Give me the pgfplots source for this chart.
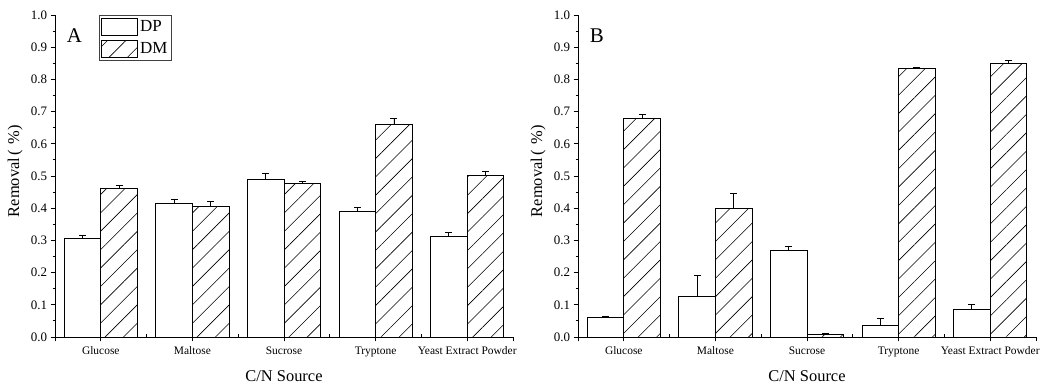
\documentclass[border=0pt]{standalone}
\usepackage{pgfplots}
\pgfplotsset{compat=1.18}
\usepackage{pgfplotstable}
\usepackage{fontspec}
\setmainfont{Liberation Serif}
\usetikzlibrary{patterns.meta}

% removal by carbon/nitrogen source: mean and standard error
% panel A
\pgfplotstableread{
x   dp     dpe    dm     dme
0   0.307  0.008  0.460  0.011
1   0.415  0.013  0.406  0.014
2   0.489  0.020  0.478  0.005
3   0.389  0.014  0.661  0.018
4   0.313  0.011  0.501  0.014
}\tabA
% panel B
\pgfplotstableread{
x   dp     dpe    dm     dme
0   0.060  0.005  0.678  0.012
1   0.127  0.065  0.400  0.046
2   0.270  0.012  0.007  0.004
3   0.035  0.023  0.834  0.004
4   0.086  0.014  0.850  0.008
}\tabB

\pgfplotsset{
  removal/.style={
    scale only axis,
    width=458bp, height=322bp,
    xmin=-0.5, xmax=4.5,
    ymin=0, ymax=1,
    axis x line*=bottom,
    axis y line*=left,
    axis line style={-, line width=0.9bp, black},
    tick align=outside,
    major tick length=4.5bp,
    minor tick length=2.5bp,
    tick style={line width=0.8bp, black},
    xtick={0,1,2,3,4},
    xticklabels={Glucose,Maltose,Sucrose,Tryptone,Yeast Extract Powder},
    minor xtick={0.5,1.5,2.5,3.5},
    minor x tick style={yshift=2.5bp},
    extra x ticks={-0.5,4.5},
    extra x tick labels={},
    ytick={0,0.1,...,1.0},
    minor y tick num=1,
    yticklabel style={font=\fontsize{13}{15}\selectfont,
      /pgf/number format/fixed, /pgf/number format/fixed zerofill,
      /pgf/number format/precision=1},
    /pgf/number format/assume math mode=true,
    xticklabel style={font=\fontsize{11.5}{13}\selectfont, yshift=-2bp},
    xlabel={C/N Source},
    ylabel={Removal\hspace{2bp}(\hspace{6bp}\%)},
    label style={font=\fontsize{16.5}{18}\selectfont},
    xlabel style={at={(axis description cs:0.5,-0.121)}, anchor=center},
    ylabel style={at={(axis description cs:-0.087,0.515)}, anchor=center},
    ybar, bar width=0.4,
    clip=false,
  },
  hollow/.style={draw=black, fill=white, line width=0.8bp,
    bar shift=-0.2,
    legend image code/.code={\draw[##1] (0bp,-8.5bp) rectangle (36bp,8.5bp);}},
  hatched/.style={draw=black, line width=0.8bp,
    pattern={Lines[angle=45,distance=13bp,line width=0.6bp]}, pattern color=black,
    bar shift=0.2,
    legend image code/.code={\draw[##1] (0bp,-8.5bp) rectangle (36bp,8.5bp);}},
  errs/.style={error bars/.cd, y dir=plus, y explicit,
    error bar style={line width=0.8bp, black},
    error mark options={rotate=90, black, line width=0.8bp, mark size=3.5bp}},
}

\begin{document}
\begin{tikzpicture}
\path[use as bounding box] (0,0) rectangle (1041bp,387bp);

\begin{axis}[removal, at={(55bp,50bp)}, anchor=south west,
  legend style={at={(0.096,1)}, anchor=north west, draw=black!75, line width=0.9bp,
    font=\fontsize{17}{19}\selectfont, inner xsep=2bp, inner ysep=2.5bp,
    row sep=4bp, legend cell align=left}]
  \addplot+[hollow, errs] table[x=x, y=dp, y error=dpe] {\tabA};
  \addlegendentry{DP}
  \addplot+[hatched, errs] table[x=x, y=dm, y error=dme] {\tabA};
  \addlegendentry{DM}
  \node[font=\fontsize{21}{23}\selectfont, anchor=west] at (rel axis cs:0.018,0.937) {A};
\end{axis}

\begin{axis}[removal, at={(578bp,50bp)}, anchor=south west]
  \addplot+[hollow, errs] table[x=x, y=dp, y error=dpe] {\tabB};
  \addplot+[hatched, errs] table[x=x, y=dm, y error=dme] {\tabB};
  \node[font=\fontsize{21}{23}\selectfont, anchor=west] at (rel axis cs:0.018,0.937) {B};
\end{axis}
\end{tikzpicture}
\end{document}
